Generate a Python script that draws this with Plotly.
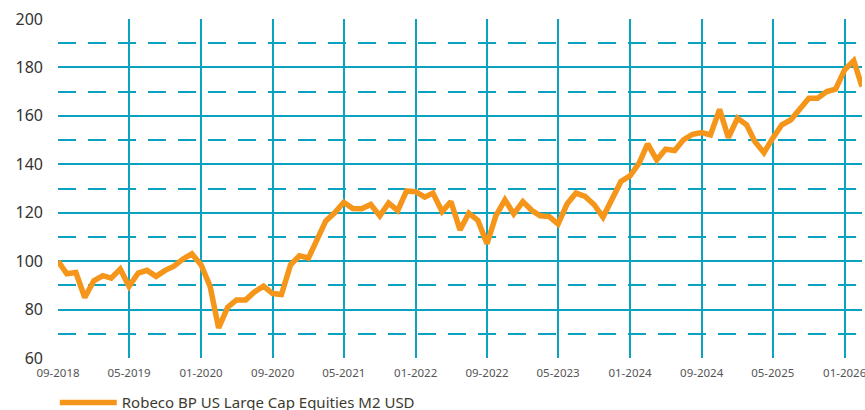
import plotly.graph_objects as go
import pandas as pd

series_name = "Robeco BP US Large Cap Equities M2 USD"
start_month = "2018-09-01"
values = [
    100, 94.8, 95.3, 85, 91.9, 94, 93, 96.7, 89.6, 95.1,
    96.2, 93.7, 96.2, 97.9, 100.9, 103, 98.5, 89.6, 72.4, 81,
    84, 84, 87.3, 89.7, 86.6, 86.2, 98.5, 102.2, 101.3, 109,
    116.6, 120.1, 124.3, 121.7, 121.6, 123.4, 118.7, 124, 120.9, 129,
    128.7, 126.4, 128.1, 120.5, 124.6, 112.9, 119.8, 116.8, 107.2, 118.7,
    125.3, 119.5, 124.6, 120.9, 118.7, 118.4, 115.3, 123.7, 128.1, 126.7,
    123.3, 118.2, 125.6, 132.9, 135.2, 140.5, 148.4, 141.8, 146.2, 145.7,
    150.1, 152.4, 153.1, 152.1, 162.7, 151, 159, 156.3, 149.4, 144.8,
    150.8, 156.3, 158.3, 162.7, 167.3, 167.3, 170, 171, 179, 182.8,
    172.1,
]
dates = pd.date_range(start_month, periods=len(values), freq="MS")

GRID = "#0AA2BE"
ORANGE = "#F5961A"

fig = go.Figure()
fig.add_trace(go.Scatter(
    x=dates, y=values, mode="lines", name=series_name,
    line=dict(color=ORANGE, width=5.5),
))

fig.update_layout(
    width=865, height=410,
    margin=dict(l=58, r=3, t=19, b=52, autoexpand=False),
    paper_bgcolor="white", plot_bgcolor="white",
    font=dict(family="Noto Sans", color="#3a3a3a"),
    showlegend=True,
    legend=dict(
        orientation="h", x=-0.004, xanchor="left", y=-0.132, yanchor="middle",
        font=dict(size=15, color="#3d3a30"), itemwidth=57,
        bgcolor="rgba(0,0,0,0)",
    ),
)
fig.update_xaxes(
    type="date", automargin=False,
    range=[dates[0], dates[-1]],
    tick0=start_month, dtick="M8", tickformat="%m-%Y",
    showgrid=True, gridcolor=GRID, gridwidth=2,
    showline=False, zeroline=False,
    ticks="", ticklabelstandoff=6, ticklabeloverflow="allow",
    tickfont=dict(size=11.5, color="#555555"),
)
fig.update_yaxes(
    range=[60, 200], dtick=20, tick0=60, automargin=False,
    showgrid=True, gridcolor=GRID, gridwidth=2,
    minor=dict(dtick=10, tick0=60, showgrid=True, gridcolor=GRID, gridwidth=2, griddash="18px,12px"),
    showline=False, zeroline=False,
    ticks="", ticklabelstandoff=14,
    tickfont=dict(size=16, color="#333333"),
)

fig.write_html("out.html", config={"displayModeBar": False},
               post_script="document.body.style.margin='0';")
